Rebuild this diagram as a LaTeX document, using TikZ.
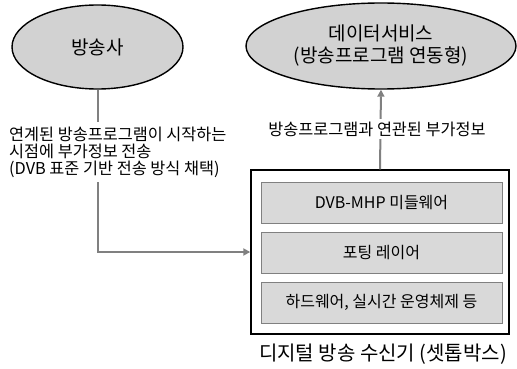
\documentclass[tikz,border=0pt]{standalone}
\usepackage{fontspec}
\setmainfont{Noto Sans CJK KR}
\usetikzlibrary{shapes.geometric,arrows.meta}
\definecolor{ellfill}{RGB}{210,210,210}
\definecolor{layfill}{RGB}{217,217,217}
\definecolor{linegray}{RGB}{128,128,128}
\tikzset{
  ell/.style={ellipse, draw=black, line width=1.4pt, fill=ellfill, inner sep=0pt},
  layerbox/.style={draw=linegray, line width=0.9pt, fill=layfill, minimum width=241pt, minimum height=41pt, inner sep=0pt, font=\fontsize{16}{19}\selectfont},
  outerbox/.style={draw=black, line width=1.4pt, fill=white, minimum width=258pt, minimum height=164pt, inner sep=0pt},
  conn/.style={draw=linegray, line width=2pt, -{Triangle[length=7pt,width=7pt]}},
  lbl/.style={fill=white, inner sep=3pt, font=\fontsize{16.3}{17}\selectfont}
}
\begin{document}
\begin{tikzpicture}[x=1pt,y=-1pt]
\useasboundingbox (0,0) rectangle (517,369);
\node[ell, minimum width=171pt, minimum height=84pt, font=\fontsize{19}{22}\selectfont] (bc) at (97.5,47) {방송사};
\node[ell, minimum width=270pt, minimum height=86pt, align=center, font=\fontsize{19}{23}\selectfont] (ds) at (381,46) {데이터서비스\\[-1pt](방송프로그램 연동형)};
\node[outerbox] (stb) at (380,252) {};
\node[layerbox] (l1) at (381.5,202.5) {DVB-MHP 미들웨어};
\node[layerbox] (l2) at (381.5,252.5) {포팅 레이어};
\node[layerbox] (l3) at (381.5,302.5) {하드웨어, 실시간 운영체제 등};
\node[font=\fontsize{20}{24}\selectfont, inner sep=0pt] (lblB) at (383,354) {디지털 방송 수신기 (셋톱박스)};
\draw[conn] (bc.south) |- (stb.west);
\draw[conn] (stb.north) -- (ds.south);
\node[lbl] (lblR) at (377,129) {방송프로그램과 연관된 부가정보};
\node[lbl, anchor=west, align=left, inner ysep=5pt] (lblL) at (6,152) {연계된 방송프로그램이 시작하는\\시점에 부가정보 전송\\(DVB 표준 기반 전송 방식 채택)};
\end{tikzpicture}
\end{document}
